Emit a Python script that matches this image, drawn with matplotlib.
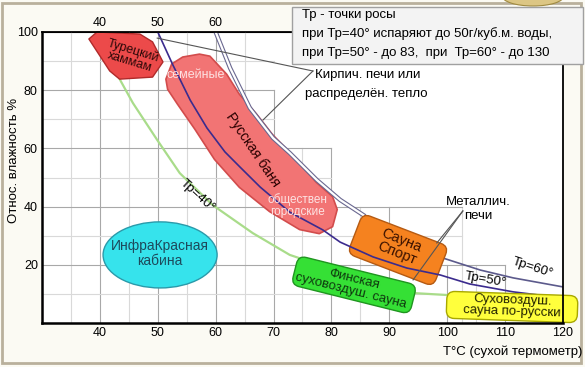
import matplotlib
matplotlib.use('Agg')
import matplotlib.pyplot as plt
import matplotlib.transforms as mtransforms
from matplotlib.patches import Polygon, Ellipse, FancyBboxPatch, Rectangle

plt.rcParams['font.family'] = ['Liberation Sans', 'DejaVu Sans']

# --- кривые точки росы (T сухого термометра, отн. влажность %) ---
tp40_t = [40, 43.5, 45.7, 49.9, 53.8, 59.5, 66.4, 72.8, 83.2, 94.1, 100.1]
tp40_rh = [100, 83.5, 75.6, 62.9, 51.5, 40.5, 30.9, 23.4, 16.5, 10.3, 9.6]

tp50_t = [50, 52.6, 55.6, 58.5, 61.6, 64.2, 67.7, 72.8, 78.5, 81.5, 87.2, 93.0, 98.8, 103.9, 111.4, 120]
tp50_rh = [100, 88.7, 76.6, 67.0, 58.8, 53.6, 46.7, 38.1, 32.0, 27.8, 22.7, 18.9, 16.5, 13.4, 10.7, 8.6]

tp60_t = [60, 62.5, 65.9, 69.9, 72.8, 77.5, 81.5, 85.5, 99.3, 105.7, 111.4, 120]
tp60_rh = [100, 87.6, 73.9, 63.6, 58.4, 49.1, 42.3, 37.1, 22.3, 18.2, 15.5, 12.4]

# --- области бань ---
hammam_t = [38.1, 39.5, 46.9, 49.1, 50.9, 49.1, 43.4, 41.7]
hammam_rh = [97.6, 100, 99.3, 96.6, 89.7, 84.5, 83.8, 86.6]

rus_t = [51.4, 52.4, 54.3, 57.2, 59.0, 61.9, 64.1, 67.1, 69.8, 72.8, 77.4, 80.2, 81.0,
         80.2, 77.9, 74.5, 69.3, 64.1, 59.8, 56.4, 53.4, 51.7]
rus_rh = [83.8, 89.0, 91.4, 92.4, 91.7, 85.5, 78.6, 71.7, 64.8, 58.6, 48.3, 43.4, 39.0,
          33.1, 30.7, 32.1, 38.3, 46.6, 56.2, 66.6, 75.2, 80.3]

# сетка "лесенкой": (положение, до куда тянется)
grid_v = [(35, 100), (40, 100), (45, 100), (50, 100), (55, 100), (60, 100), (65, 100),
          (70, 80), (75, 60), (80, 60), (85, 40), (90, 40), (102.5, 40),
          (100, 20), (105, 20), (110, 20)]
grid_h = [(90, 70), (80, 70), (70, 70), (60, 80), (50, 80), (40, 102.5), (30, 102.5),
          (20, 110), (10, 110)]

x_ticks = [40, 50, 60, 70, 80, 90, 100, 110, 120]
y_ticks = [20, 40, 60, 80, 100]
top_ticks = [40, 50, 60]

fig = plt.figure(figsize=(5.85, 3.67), dpi=100, facecolor='#fbfaf3')
ax = fig.add_axes([42 / 585, 44 / 367, 521 / 585, 291 / 367])
ax.set_xlim(30, 120)
ax.set_ylim(0, 100)
ax.set_facecolor('white')

# сетка
for x, top in grid_v:
    major = x % 10 == 0
    ax.plot([x, x], [0, top], color='#a8a8a8' if major else '#d9d9d9', lw=0.8, zorder=1)
for y, right in grid_h:
    major = y % 20 == 0
    ax.plot([30, right], [y, y], color='#a8a8a8' if major else '#d9d9d9', lw=0.8, zorder=1)

# кривые
ax.plot(tp40_t, tp40_rh, color='#a9dc8a', lw=1.6, zorder=3)
ax.plot(tp60_t, tp60_rh, color='#5c5a8c', lw=1.2, zorder=3)
n60 = sum(1 for t in tp60_t if t < 90)
ax.plot(tp60_t[:n60], tp60_rh[:n60], color='#6a6890', lw=3.2, zorder=3)
ax.plot(tp60_t[:n60], tp60_rh[:n60], color='white', lw=1.6, zorder=3)
ax.plot(tp50_t, tp50_rh, color='#3b2b8e', lw=1.2, zorder=5)

# русская баня и хаммам
ax.add_patch(Polygon(list(zip(rus_t, rus_rh)), closed=True, fc='#f27474', ec='#d24c4c',
                     lw=1.2, joinstyle='round', zorder=2))
ax.add_patch(Polygon(list(zip(hammam_t, hammam_rh)), closed=True, fc='#ec4a4a', ec='#b02a2a',
                     lw=1.0, joinstyle='round', zorder=6, clip_on=False))

# ИК кабина
ax.add_patch(Ellipse((50.4, 23.4), 19.7, 22.7, fc='#36e3ec', ec='#2a9aaa', lw=1.0, zorder=6))


def rbox(cx, cy, w, h, ang, fc, ec, z, r=0.08):
    tr = (mtransforms.Affine2D().rotate_deg(ang) + fig.dpi_scale_trans
          + mtransforms.ScaledTranslation(cx, cy, ax.transData))
    p = FancyBboxPatch((-w / 2, -h / 2), w, h, boxstyle='round,pad=0,rounding_size=%g' % r,
                       transform=tr, fc=fc, ec=ec, lw=1.0, zorder=z, clip_on=False)
    ax.add_artist(p)


rbox(91.5, 25.1, 0.92, 0.43, -21, '#f5821f', '#b55a12', 4)
rbox(83.9, 13.1, 1.22, 0.30, -14, '#35e035', '#1f951f', 6)
rbox(111.2, 5.5, 1.31, 0.27, -2, '#ffff3c', '#a8a800', 6)

# подписи областей
ax.text(45.4, 91.6, 'Турецкий\nхаммам', rotation=-17, ha='center', va='center',
        fontsize=9, color='#2a0808', linespacing=0.95, zorder=7)
ax.text(56.6, 85.2, 'семейные', ha='center', va='center', fontsize=9, color='#fde2e2', zorder=7)
ax.text(66.4, 59.5, 'Русская баня', rotation=-56, ha='center', va='center',
        fontsize=10, color='#2a0000', zorder=7)
ax.text(74.2, 40.5, 'обществен\nгородские', ha='center', va='center', fontsize=8.5,
        color='#fde2e2', linespacing=1.0, zorder=7)
ax.text(50.4, 24.0, 'ИнфраКрасная\nкабина', ha='center', va='center', fontsize=10,
        color='#1d4a5c', linespacing=1.1, zorder=7)
ax.text(91.7, 26.1, 'Сауна\nСпорт', rotation=-22, ha='center', va='center', fontsize=10.5,
        color='#3b1200', linespacing=1.0, zorder=7)
ax.text(83.6, 13.1, 'Финская\nсуховоздуш. сауна', rotation=-14, ha='center', va='center',
        fontsize=9.5, color='#0f3a0f', linespacing=0.95, zorder=7)
ax.text(111.2, 5.8, 'Суховоздуш.\nсауна по-русски', rotation=-2, ha='center', va='center',
        fontsize=9.5, color='#222200', linespacing=0.95, zorder=7, clip_on=False)

# подписи кривых
ax.text(56.8, 43.6, 'Тр=40°', rotation=-42, ha='center', va='center', fontsize=9.5, zorder=7)
ax.text(106.6, 14.8, 'Тр=50°', rotation=-10, ha='center', va='center', fontsize=9.5, zorder=7)
ax.text(114.7, 19.0, 'Тр=60°', rotation=-18, ha='center', va='center', fontsize=9.5, zorder=7)

# выноски
ax.text(105.3, 39.2, 'Металлич.\nпечи', ha='center', va='center', fontsize=9.5,
        linespacing=1.2, zorder=7)
ax.plot([102.7, 98.2], [38.5, 27.5], color='#555555', lw=0.8, zorder=7)
ax.plot([102.7, 94.1], [38.5, 14.8], color='#555555', lw=0.8, zorder=7)

ax.text(77.2, 85.2, 'Кирпич. печи или', ha='left', va='center', fontsize=9.5, zorder=7)
ax.text(75.4, 78.7, 'распределён. тепло', ha='left', va='center', fontsize=9.5, zorder=7)
ax.plot([76.8, 49.9], [86.6, 97.9], color='#555555', lw=0.8, zorder=7)
ax.plot([76.8, 68.2], [86.6, 69.8], color='#555555', lw=0.8, zorder=7)

# оси
ax.set_xticks(x_ticks)
ax.set_yticks(y_ticks)
ax.tick_params(length=0, labelsize=9, pad=3)
sec = ax.secondary_xaxis('top')
sec.set_xticks(top_ticks)
sec.tick_params(length=0, labelsize=9, pad=2)
for s in ['left', 'bottom']:
    ax.spines[s].set_linewidth(1.8)
for s in ['top', 'right']:
    ax.spines[s].set_linewidth(1.3)
for s in ax.spines.values():
    s.set_zorder(10)

fig.text(14 / 585, 1 - 160 / 367, 'Относ. влажность %', rotation=90, ha='center', va='center',
         fontsize=9.5)
fig.text(582 / 585, 1 - 352 / 367, 'T°C (сухой термометр)', ha='right', va='center',
         fontsize=9.5)

# рамка, монетка и пояснение
fig.add_artist(Rectangle((2 / 585, 4 / 367), 579 / 585, 360 / 367, fill=False, ec='#b9b09c',
                         lw=2, transform=fig.transFigure, zorder=1))
fig.add_artist(Ellipse((533 / 585, 1 + 4 / 367), 62 / 585, 20 / 367, fc='#dcc684', ec='#a08a40',
                       lw=0.8, transform=fig.transFigure, zorder=2))
fig.add_artist(Rectangle((292 / 585, 1 - 64 / 367), 291 / 585, 57 / 367, fc='#f3f3f3',
                         ec='#a0a0a0', lw=1, transform=fig.transFigure, zorder=5))
box_lines = ['Тр - точки росы',
             'при Тр=40° испаряют до 50г/куб.м. воды,',
             'при Тр=50° - до 83,  при  Тр=60° - до 130']
for i, line in enumerate(box_lines):
    fig.text(302 / 585, 1 - (15 + 19 * i) / 367, line, ha='left', va='center', fontsize=9.5,
             zorder=6)

fig.savefig('out.png', dpi=100, facecolor=fig.get_facecolor())
